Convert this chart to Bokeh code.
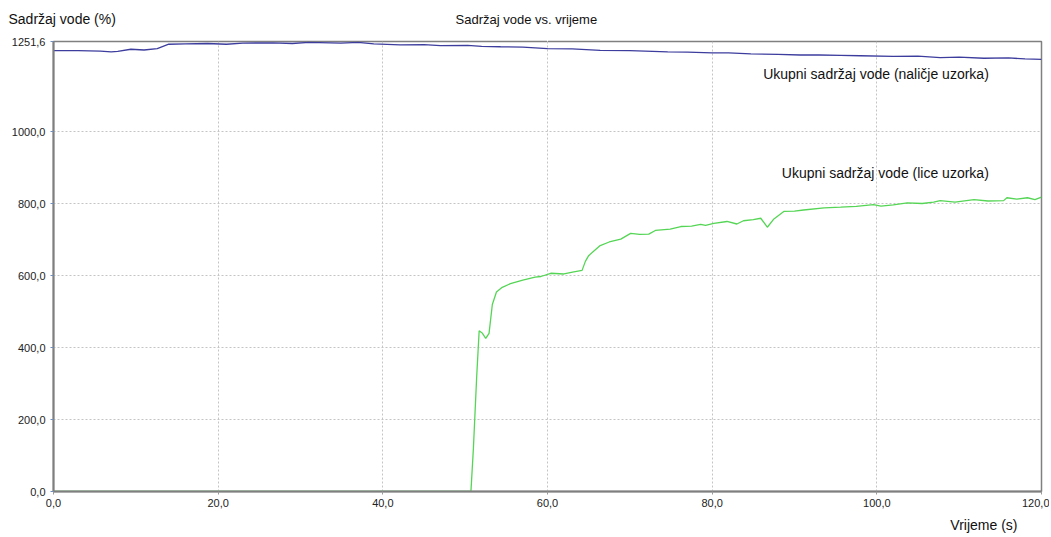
from bokeh.plotting import figure
from bokeh.models import Range1d, FixedTicker, Label, Title, LinearAxis
from bokeh.embed import file_html
from bokeh.resources import INLINE

# ---- data ----
blue_x = [0, 3, 5.7, 7, 7.8, 9.4, 11, 12.6, 14.0, 16, 18.7, 21, 23, 26.7, 29, 31, 34.9, 37, 38.9,
          42.1, 45, 47.0, 50.3, 52, 54.3, 57, 60.0, 63, 66.4, 70, 74.6, 77, 80.0, 82, 84.7, 88,
          90.7, 93, 95.6, 98, 102, 105, 107.7, 110, 113, 116, 118, 120]
blue_y = [1226, 1226, 1225, 1223, 1224, 1230, 1228, 1232, 1244, 1245, 1246, 1244, 1247, 1248, 1246,
          1249, 1247, 1249, 1245, 1242, 1243, 1240, 1241, 1238, 1237, 1236, 1232, 1231, 1227, 1226,
          1223, 1222, 1220, 1220, 1217, 1216, 1214, 1214, 1213, 1212, 1210, 1211, 1207, 1208, 1205,
          1206, 1203, 1202]

green_x = [0, 50.7, 51.0, 51.4, 51.7, 52.1, 52.5, 52.9, 53.3, 53.8, 54.5, 55.5, 57, 58.5, 59.2,
           60.4, 62.0, 63.2, 64.2, 64.6, 65.0, 65.6, 66.4, 67.5, 68.9, 70.1, 71.2, 72.3, 73.1, 74.9,
           76.2, 77.5, 78.6, 79.2, 80.2, 81.8, 83.0, 83.8, 85.0, 85.9, 86.7, 87.5, 88.7, 90, 91.1,
           93.6, 95.6, 97.5, 99.6, 100.5, 102, 103.7, 105.5, 106.9, 107.7, 109.5, 111.8, 113.5,
           115.4, 115.8, 117, 118.3, 119.2, 120]
green_y = [0, 0, 120, 320, 447, 440, 426, 440, 520, 555, 568, 578, 588, 596, 598, 607, 605, 611,
           615, 640, 656, 668, 684, 694, 702, 718, 715, 716, 726, 730, 737, 738, 743, 740, 746, 751,
           744, 753, 756, 760, 735, 758, 779, 780, 783, 789, 791, 793, 798, 794, 797, 803, 801, 805,
           809, 805, 812, 808, 809, 817, 813, 817, 812, 819]

x_ticks = [0, 20, 40, 60, 80, 100, 120]
x_tick_labels = ["0,0", "20,0", "40,0", "60,0", "80,0", "100,0", "120,0"]
y_ticks = [0, 200, 400, 600, 800, 1000, 1251.6]
y_tick_labels = ["0,0", "200,0", "400,0", "600,0", "800,0", "1000,0", "1251,6"]

title_text = "Sadržaj vode vs. vrijeme"
y_label_text = "Sadržaj vode (%)"
x_label_text = "Vrijeme (s)"
blue_name = "Ukupni sadržaj vode (naličje uzorka)"
green_name = "Ukupni sadržaj vode (lice uzorka)"

FONT = "Liberation Sans"

p = figure(width=1049, height=537, output_backend="svg", toolbar_location=None,
           x_range=Range1d(0, 120), y_range=Range1d(0, 1251.6),
           min_border_left=53, min_border_right=8, min_border_top=41, min_border_bottom=10)

p.title.text = title_text
p.title.align = "left"
p.title.offset = 402
p.title.text_font = FONT
p.title.text_font_size = "13px"
p.title.text_font_style = "normal"
p.title.text_color = "#111111"
p.title.standoff = -19

p.outline_line_color = "#808080"
p.outline_line_width = 1.5
p.background_fill_color = "white"
p.border_fill_color = "white"

# grid
for g in (p.xgrid, p.ygrid):
    g.grid_line_color = "#c4c4c4"
    g.grid_line_dash = "2 2"
    g.grid_line_width = 1
p.xgrid.ticker = FixedTicker(ticks=[20, 40, 60, 80, 100])
p.ygrid.ticker = FixedTicker(ticks=[200, 400, 600, 800, 1000])

# axes
p.xaxis.ticker = FixedTicker(ticks=x_ticks)
p.yaxis.ticker = FixedTicker(ticks=y_ticks)
p.xaxis.major_label_overrides = {t: l for t, l in zip(x_ticks, x_tick_labels)}
p.yaxis.major_label_overrides = {t: l for t, l in zip(y_ticks, y_tick_labels)}
for ax in (p.xaxis[0], p.yaxis[0]):
    ax.axis_line_color = "#7f7f7f"
    ax.axis_line_width = 2
    ax.major_tick_in = 0
    ax.major_tick_out = 3
    ax.minor_tick_in = 0
    ax.minor_tick_out = 0
    ax.major_label_text_font = FONT
    ax.major_label_text_font_size = "11px"
    ax.major_label_text_color = "#222222"
p.yaxis.major_tick_line_color = "#6f8fc0"
p.xaxis.major_tick_line_color = "#9a9a9a"
p.xaxis.major_label_standoff = 4
p.yaxis.major_label_standoff = 5

# x axis label as a right-aligned title below the axis
p.add_layout(Title(text=x_label_text, align="right", offset=24, text_font=FONT,
                   text_font_size="14px", text_font_style="normal", text_color="#111111",
                   standoff=10), "below")

# lines
p.line(blue_x, blue_y, line_color="#3d3d9e", line_width=1.3)
p.line(green_x, green_y, line_color="#55d555", line_width=1.3)

# series labels
p.add_layout(Label(x=113.6, y=1162, text=blue_name, text_align="right", text_baseline="middle",
                   text_font=FONT, text_font_size="14px", text_color="#111111"))
p.add_layout(Label(x=113.6, y=886, text=green_name, text_align="right", text_baseline="middle",
                   text_font=FONT, text_font_size="14px", text_color="#111111"))

# invisible spacer (white tick, no label text) that lifts the title row above the frame
spacer = LinearAxis(ticker=FixedTicker(ticks=[60]), axis_line_color=None,
                    major_tick_line_color="white", major_tick_line_width=1,
                    minor_tick_line_color=None,
                    major_tick_in=0, major_tick_out=24, minor_tick_in=0, minor_tick_out=0,
                    major_label_standoff=0, major_label_text_font_size="0px",
                    major_label_overrides={60: ""})
p.add_layout(spacer, "above")

# y axis label as a second, left-aligned title on the same row as the main title
p.add_layout(Title(text=y_label_text, align="left", offset=-45, text_font=FONT,
                   text_font_size="14px", text_font_style="normal", text_color="#111111",
                   standoff=-19), "above")

open("out.html", "w").write(file_html(p, INLINE))
